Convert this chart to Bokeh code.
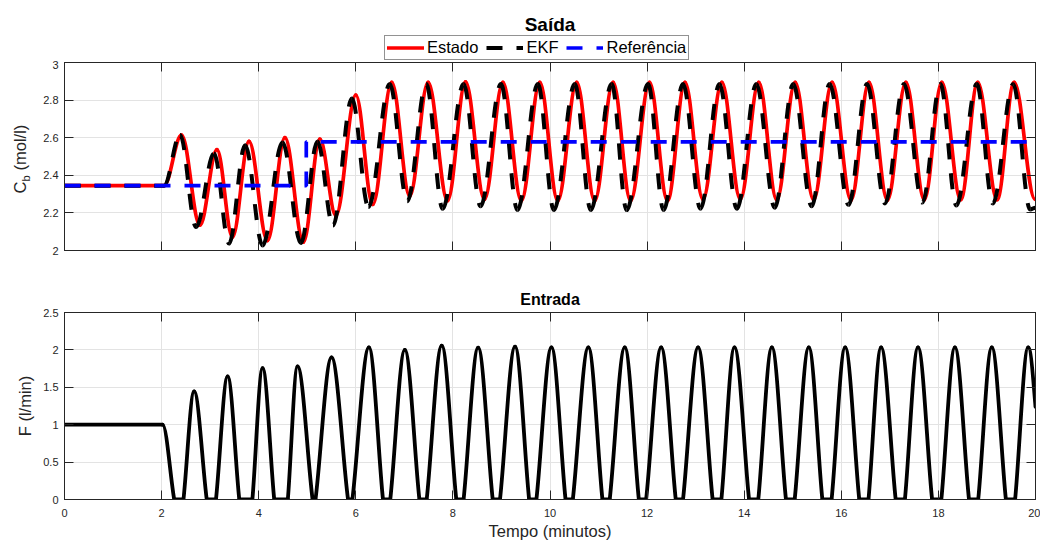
import numpy as np
from bokeh.plotting import figure
from bokeh.models import (Range1d, LinearAxis, FixedTicker, CustomJSTickFormatter,
                          Legend, LegendItem, Label, ColumnDataSource)
from bokeh.layouts import column, row
from bokeh.embed import file_html
from bokeh.resources import INLINE

# ---------------- data ----------------
# Estado (state): extrema of C_b (mol/l) vs time (min)
estado_t = [0, 2.05, 2.41, 2.79, 3.14, 3.46, 3.80, 4.18, 4.54, 4.92, 5.26, 5.59,
            6.00, 6.35, 6.74, 7.11, 7.49, 7.89, 8.26, 8.65, 9.03, 9.41, 9.79, 10.16,
            10.55, 10.92, 11.30, 11.66, 12.05, 12.42, 12.78, 13.15, 13.54, 13.92,
            14.30, 14.67, 15.05, 15.43, 15.81, 16.20, 16.57, 16.95, 17.33, 17.71,
            18.07, 18.46, 18.81, 19.21, 19.56, 19.99]
estado_v = [2.345, 2.345, 2.614, 2.135, 2.537, 2.072, 2.580, 2.053, 2.600, 2.045,
            2.593, 2.186, 2.827, 2.245, 2.895, 2.290, 2.895, 2.265, 2.897, 2.272,
            2.895, 2.265, 2.895, 2.265, 2.895, 2.265, 2.895, 2.265, 2.895, 2.265,
            2.895, 2.272, 2.895, 2.272, 2.895, 2.270, 2.895, 2.270, 2.895, 2.268,
            2.895, 2.268, 2.895, 2.270, 2.895, 2.270, 2.895, 2.270, 2.895, 2.272]

# EKF estimate: extrema
ekf_t = [0, 2.05, 2.38, 2.71, 3.08, 3.39, 3.72, 4.08, 4.49, 4.87, 5.21, 5.53,
         5.92, 6.26, 6.70, 7.06, 7.45, 7.79, 8.22, 8.57, 8.99, 9.33, 9.75, 10.08,
         10.51, 10.84, 11.27, 11.58, 12.02, 12.34, 12.74, 13.10, 13.49, 13.85,
         14.25, 14.63, 15.01, 15.39, 15.76, 16.15, 16.53, 16.90, 17.29, 17.67,
         18.04, 18.37, 18.79, 19.12, 19.54, 19.89, 20.0]
ekf_v = [2.345, 2.345, 2.615, 2.125, 2.516, 2.037, 2.560, 2.027, 2.574, 2.040,
         2.580, 2.133, 2.808, 2.232, 2.885, 2.262, 2.885, 2.222, 2.885, 2.235,
         2.885, 2.215, 2.885, 2.215, 2.885, 2.215, 2.885, 2.215, 2.885, 2.215,
         2.885, 2.222, 2.885, 2.222, 2.885, 2.228, 2.885, 2.235, 2.885, 2.243,
         2.885, 2.250, 2.885, 2.255, 2.885, 2.240, 2.885, 2.250, 2.885, 2.218, 2.228]

# Referência (set point)
ref_t = [0, 4.98, 4.98, 20]
ref_v = [2.345, 2.345, 2.578, 2.578]

# Entrada F (l/min): flat level, then zero-start, zero-end, peak ...
f_t = [0, 2.02,
       2.26, 2.45, 2.67, 2.93, 3.12, 3.36, 3.60, 3.87, 4.08, 4.32, 4.60, 4.80,
       5.11, 5.17, 5.50, 5.84, 5.93, 6.27, 6.56, 6.71, 7.01, 7.31, 7.46, 7.77,
       8.07, 8.22, 8.52, 8.82, 8.97, 9.28, 9.57, 9.72, 10.03, 10.32, 10.47, 10.79,
       11.08, 11.23, 11.54, 11.83, 11.98, 12.29, 12.59, 12.74, 13.05, 13.35, 13.53, 13.80,
       14.10, 14.29, 14.57, 14.86, 15.04, 15.33, 15.61, 15.80, 16.08, 16.37, 16.56, 16.82,
       17.12, 17.31, 17.58, 17.87, 18.06, 18.34, 18.63, 18.82, 19.10, 19.39, 19.58, 19.85,
       20.0]
f_v = [1, 1,
       0, 0, 1.445, 0, 0, 1.645, 0, 0, 1.755, 0, 0, 1.780,
       0, 0, 1.900, 0, 0, 2.035, 0, 0, 2.000, 0, 0, 2.057,
       0, 0, 2.030, 0, 0, 2.045, 0, 0, 2.035, 0, 0, 2.035,
       0, 0, 2.035, 0, 0, 2.035, 0, 0, 2.035, 0, 0, 2.035,
       0, 0, 2.035, 0, 0, 2.035, 0, 0, 2.035, 0, 0, 2.035,
       0, 0, 2.035, 0, 0, 2.035, 0, 0, 2.035, 0, 0, 2.035,
       1.24]

x_ticks = [0, 2, 4, 6, 8, 10, 12, 14, 16, 18, 20]
cb_ticks = [2, 2.2, 2.4, 2.6, 2.8, 3]
f_ticks = [0, 0.5, 1, 1.5, 2, 2.5]

# ---------------- helpers ----------------
FONT = "Liberation Sans"
INK = "#262626"
GRID = "#e3e3e3"
K = 0.364  # tangent length at extrema (smooth rendering between read points)


def extrema_segments(t, v):
    t = np.asarray(t, float)
    v = np.asarray(v, float)
    t0, t1, v0, v1 = t[:-1], t[1:], v[:-1], v[1:]
    dt = t1 - t0
    return ColumnDataSource(dict(x0=t0, y0=v0, x1=t1, y1=v1,
                                 cx0=t0 + K * dt, cy0=v0, cx1=t1 - K * dt, cy1=v1))


def clipped_segments(t, v):
    t = np.asarray(t, float)
    v = np.asarray(v, float)
    d = dict(x0=[], y0=[], x1=[], y1=[], cx0=[], cy0=[], cx1=[], cy1=[])
    for i in range(len(t) - 1):
        a, b, ya, yb = t[i], t[i + 1], v[i], v[i + 1]
        dt = b - a
        if ya == yb:
            c = (a + dt / 3, ya, b - dt / 3, yb)
        elif yb == 0:
            c = (a + 0.35 * dt, ya, b - 0.33 * dt, 0.29 * ya)
        elif ya == 0:
            c = (a + 0.33 * dt, 0.29 * yb, b - 0.35 * dt, yb)
        else:
            c = (a + 0.35 * dt, ya, b - dt / 3, yb + 0.5 * (ya - yb))
        for k, val in zip(("x0", "y0", "x1", "y1", "cx0", "cy0", "cx1", "cy1"),
                          (a, ya, b, yb) + c):
            d[k].append(val)
    return ColumnDataSource(d)


fmt = CustomJSTickFormatter(code="return String(Number(tick.toFixed(2)));")
blank = CustomJSTickFormatter(code="return '';")


def style_axis(ax, ticks, labels=True, standoff=6):
    ax.ticker = FixedTicker(ticks=ticks)
    ax.formatter = fmt if labels else blank
    ax.axis_line_color = INK
    ax.major_tick_line_color = INK
    ax.major_tick_in = 9
    ax.major_tick_out = 0
    ax.minor_tick_line_color = None
    ax.major_label_text_font = FONT
    ax.major_label_text_color = INK
    ax.major_label_text_font_size = "11px" if labels else "1px"
    ax.major_label_standoff = standoff if labels else 0
    ax.axis_label_text_font = FONT
    ax.axis_label_text_font_style = "normal"
    ax.axis_label_text_color = INK
    ax.axis_label_text_font_size = "16.5px"


def base_fig(width, height, y_range, left, top, bottom):
    p = figure(width=width, height=height, x_range=Range1d(0, 20), y_range=y_range,
               output_backend="svg", toolbar_location=None,
               min_border_left=left, min_border_right=5,
               min_border_top=top, min_border_bottom=bottom)
    p.outline_line_color = INK
    p.outline_line_width = 1
    p.background_fill_color = "white"
    p.border_fill_color = "white"
    p.xgrid.grid_line_color = GRID
    p.ygrid.grid_line_color = GRID
    return p


def bare_fig(width, height):
    p = figure(width=width, height=height, x_range=Range1d(100, 200),
               y_range=Range1d(100, 200), x_axis_type=None, y_axis_type=None,
               output_backend="svg", toolbar_location=None, min_border=0, title=None)
    p.outline_line_color = None
    p.grid.visible = False
    p.background_fill_color = "white"
    p.border_fill_color = "white"
    return p


est_src = extrema_segments(estado_t, estado_v)
ekf_src = extrema_segments(ekf_t, ekf_v)
ref_src = ColumnDataSource(dict(t=ref_t, v=ref_v))

est_style = dict(line_color="#ff0000", line_width=3.7, line_cap="round")
ekf_style = dict(line_color="#000000", line_width=4, line_dash="16 14")
ref_style = dict(line_color="#0000ff", line_width=3.7, line_dash="16 14")
bz = dict(x0="x0", y0="y0", x1="x1", y1="y1", cx0="cx0", cy0="cy0", cx1="cx1", cy1="cy1")

# ---------------- header: title "Saída" + legend ----------------
# (frame of this strip is aligned by the column layout to x = 64 .. 1035)
head = bare_fig(1040, 60)
h_est = head.bezier(source=est_src, **bz, **est_style)
h_ekf = head.bezier(source=ekf_src, **bz, **ekf_style)
h_ref = head.line("t", "v", source=ref_src, **ref_style)
legend = Legend(items=[LegendItem(label="Estado", renderers=[h_est]),
                       LegendItem(label="EKF", renderers=[h_ekf]),
                       LegendItem(label="Referência", renderers=[h_ref])],
                orientation="horizontal", location=(320, 0),
                label_text_font=FONT, label_text_font_size="16.5px",
                label_text_color="#000000",
                glyph_width=37, glyph_height=19, label_height=19,
                label_standoff=3, spacing=8, padding=2, margin=0,
                border_line_color=INK, border_line_width=1,
                background_fill_color="white", background_fill_alpha=1)
head.add_layout(legend, "center")
head.add_layout(Label(x=485.5, y=36, x_units="screen", y_units="screen",
                      text="Saída", text_font=FONT, text_font_size="19px",
                      text_font_style="bold", text_color="#000000",
                      text_align="center", text_baseline="middle"))

# ---------------- top: Saída ----------------
top = base_fig(1008, 207, Range1d(2, 3), 32, 2, 17)
top.xgrid.ticker = FixedTicker(ticks=x_ticks)
top.ygrid.ticker = FixedTicker(ticks=cb_ticks)
style_axis(top.xaxis[0], x_ticks, labels=False)
style_axis(top.yaxis[0], cb_ticks, labels=True, standoff=6)
ax_r = LinearAxis()
style_axis(ax_r, cb_ticks, labels=False)
top.add_layout(ax_r, "right")
ax_t = LinearAxis()
style_axis(ax_t, x_ticks, labels=False)
top.add_layout(ax_t, "above")

top.bezier(source=est_src, **bz, **est_style)
top.bezier(source=ekf_src, **bz, **ekf_style)
top.line("t", "v", source=ref_src, **ref_style)

# y-axis label of the top panel (C with subscript b), in a narrow strip
# (its frame is aligned by the row layout to the top panel's frame: y = 62 .. 250)
ylab = bare_fig(32, 207)
rot_kw = dict(x_units="screen", y_units="screen", angle=np.pi / 2, text_font=FONT,
              text_color=INK, text_align="left", text_baseline="middle")
ylab.add_layout(Label(x=19.7, y=57, text="C", text_font_size="16.5px", **rot_kw))
ylab.add_layout(Label(x=25.3, y=69, text="b", text_font_size="11px", **rot_kw))
ylab.add_layout(Label(x=19.7, y=80, text="(mol/l)", text_font_size="16.5px", **rot_kw))

# ---------------- bottom: Entrada ----------------
bot = base_fig(1040, 275, Range1d(0, 2.5), 64, 45, 42)
bot.xgrid.ticker = FixedTicker(ticks=x_ticks)
bot.ygrid.ticker = FixedTicker(ticks=f_ticks)
style_axis(bot.xaxis[0], x_ticks, labels=True, standoff=9)
style_axis(bot.yaxis[0], f_ticks, labels=True, standoff=6)
bot.xaxis.axis_label = "Tempo (minutos)"
bot.xaxis.axis_label_standoff = 2
bot.yaxis.axis_label = "F (l/min)"
bot.yaxis.axis_label_standoff = 6
bx_r = LinearAxis()
style_axis(bx_r, f_ticks, labels=False)
bot.add_layout(bx_r, "right")
bx_t = LinearAxis()
style_axis(bx_t, x_ticks, labels=False)
bot.add_layout(bx_t, "above")
bot.title.text = "Entrada"
bot.title.align = "center"
bot.title.text_font = FONT
bot.title.text_font_size = "16px"
bot.title.text_font_style = "bold"
bot.title.text_color = "#000000"
bot.title.standoff = 10

bot.bezier(source=clipped_segments(f_t, f_v), **bz,
           line_color="#000000", line_width=3.8, line_cap="round")

layout = column(head, row(ylab, top, spacing=0), bot, spacing=0)
open("out.html", "w").write(file_html(layout, INLINE))
